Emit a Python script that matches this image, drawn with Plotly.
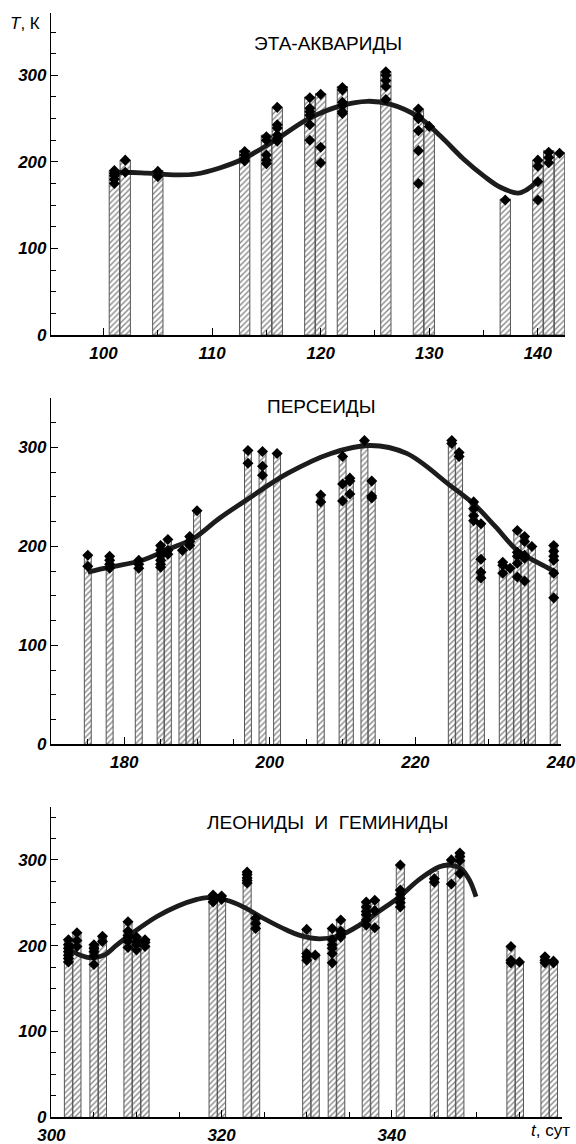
import plotly.graph_objects as go

# ---------------- DATA ----------------
# Panel 1: ЭТА-АКВАРИДЫ
eta_days = [101, 102, 105, 113, 115, 116, 119, 120, 122, 126, 129, 130, 137, 140, 141, 142]
eta_bar_T = [190, 202, 190, 213, 231, 263, 275, 279, 287, 304, 261, 241, 157, 202, 213, 211]
eta_pts = [
    [190, 187, 184, 180, 175],
    [202, 188],
    [189, 183],
    [212, 208, 204, 201],
    [229, 225, 208, 202, 198],
    [263, 243, 239, 231, 227, 224],
    [274, 262, 258, 254, 243, 225],
    [278, 217, 199],
    [286, 283, 269, 265, 258, 256],
    [304, 300, 294, 287, 272],
    [261, 252, 250, 236, 213, 175],
    [241],
    [156],
    [202, 195, 177, 156],
    [211, 205, 199],
    [210],
]
eta_curve_t = [100.6, 102, 104, 106.7, 108.5, 110.7, 112.8, 115.8, 118.9, 121.9, 124.3,
               126.3, 129.0, 131.1, 133.1, 135.1, 136.5, 138.2, 139.0, 139.9]
eta_curve_T = [187, 188, 187, 185, 186, 193, 203, 225, 250, 265, 270,
               267, 252, 229, 204, 183, 171, 164, 168, 177]

# Panel 2: ПЕРСЕИДЫ
per_days = [175, 178, 182, 185, 186, 188, 189, 190, 197, 199, 201, 207, 210, 211, 213,
            214, 225, 226, 228, 229, 232, 233, 234, 235, 236, 239]
per_bar_T = [191, 190, 187, 201, 208, 197, 210, 236, 297, 296, 295, 252, 291, 269, 307,
             266, 307, 296, 246, 224, 185, 179, 217, 211, 201, 203]
per_pts = [
    [191, 180],
    [190, 186, 182, 178],
    [186, 182, 178],
    [201, 196, 191, 186, 182, 179],
    [207, 196, 192],
    [196],
    [210, 205, 201],
    [236],
    [297, 284],
    [296, 281, 272],
    [294],
    [252, 245],
    [291, 263, 246],
    [269, 266, 253],
    [307],
    [266, 251, 249],
    [307, 304],
    [295, 291],
    [245, 238, 231, 226],
    [223, 187, 174, 168],
    [184, 181, 173],
    [178],
    [216, 194, 190, 183, 169],
    [210, 205, 191, 188, 165],
    [200],
    [201, 195, 190, 186, 173, 148],
]
per_curve_t = [175, 178, 182.5, 186, 189.5, 193, 197, 202.5, 208.4, 213.8, 218.8,
               224.7, 228, 231, 234, 238, 239.5]
per_curve_T = [174, 179, 186, 197, 208, 228, 248, 274, 294, 302, 294,
               262, 243, 220, 196, 179, 173]

# Panel 3: ЛЕОНИДЫ И ГЕМИНИДЫ
lg_days = [302, 303, 305, 306, 309, 310, 311, 319, 320, 323, 324, 330, 331, 333, 334,
           337, 338, 341, 345, 347, 348, 354, 355, 358, 359]
lg_bar_T = [208, 216, 202, 212, 228, 210, 208, 259, 259, 287, 234, 220, 191, 221, 231,
            251, 253, 294, 287, 301, 308, 200, 181, 188, 183]
lg_pts = [
    [207, 201, 197, 193, 189, 185, 181],
    [215, 206, 199],
    [201, 197, 193, 188, 178],
    [211, 205],
    [228, 217, 212, 209, 205, 198],
    [210, 205, 201, 195],
    [207, 204, 199],
    [259, 255, 251],
    [258, 254],
    [286, 283, 279, 276, 273],
    [232, 226, 220],
    [219, 191, 187, 183],
    [189],
    [220, 207, 201, 197, 191, 180],
    [230, 217, 213, 210],
    [251, 245, 240, 236, 230, 224],
    [253, 241, 221],
    [294, 265, 260, 255, 250, 245],
    [278, 274],
    [300, 272],
    [308, 304, 299, 284],
    [199, 183, 180],
    [181],
    [187, 183, 180],
    [182, 180],
]
lg_curve_t = [301.8, 303.4, 304.6, 306.2, 307.7, 309.7, 312.4, 314.8, 317.1, 318.3,
              320.6, 322.6, 324.9, 327.7, 329.2, 331.5, 333.9, 336.2, 338.5, 340.9,
              343.2, 345.6, 346.8, 348.1, 349.1, 349.9]
lg_curve_T = [197, 189, 186, 189, 201, 216, 234, 246, 254, 256,
              253, 245, 232, 218, 212, 208, 212, 224, 240, 257,
              277, 292, 294, 290, 277, 257]

titles = ["ЭТА-АКВАРИДЫ", "ПЕРСЕИДЫ", "ЛЕОНИДЫ \u00a0И \u00a0ГЕМИНИДЫ"]
x_ticks = [[100, 110, 120, 130, 140], [180, 200, 220, 240], [300, 320, 340]]

# ---------------- FIGURE ----------------
W, H = 576, 1144
FONT = "Liberation Sans, Arial, sans-serif"

panels = [
    dict(days=eta_days, bars=eta_bar_T, pts=eta_pts, ct=eta_curve_t, cT=eta_curve_T,
         xr=[95.2, 142.5], yr=[0, 372], px=(51.4, 565), py=(13, 335), title_xy=(328, 44)),
    dict(days=per_days, bars=per_bar_T, pts=per_pts, ct=per_curve_t, cT=per_curve_T,
         xr=[170, 240], yr=[0, 350], px=(51.4, 561), py=(398, 744.3), title_xy=(321, 406)),
    dict(days=lg_days, bars=lg_bar_T, pts=lg_pts, ct=lg_curve_t, cT=lg_curve_T,
         xr=[300, 360], yr=[0, 362], px=(51.4, 562), py=(806.7, 1117.3), title_xy=(327, 822)),
]

fig = go.Figure()
annotations = []
for i, p in enumerate(panels):
    n = "" if i == 0 else str(i + 1)
    xa, ya = "x" + n, "y" + n
    fig.add_trace(go.Bar(
        x=p["days"], y=p["bars"], width=0.95, xaxis=xa, yaxis=ya,
        marker=dict(color="white",
                    line=dict(color="#555555", width=1),
                    pattern=dict(shape="/", fgcolor="#111111", bgcolor="white",
                                 size=4, solidity=0.35)),
        hoverinfo="skip"))
    fig.add_trace(go.Scatter(
        x=p["ct"], y=p["cT"], mode="lines", line=dict(color="#1c1c1c", width=4.8, shape="spline"),
        xaxis=xa, yaxis=ya, hoverinfo="skip"))
    px_, py_ = [], []
    for d, vals in zip(p["days"], p["pts"]):
        for v in vals:
            px_.append(d)
            py_.append(v)
    fig.add_trace(go.Scatter(
        x=px_, y=py_, mode="markers",
        marker=dict(symbol="diamond", size=8.5, color="black"),
        xaxis=xa, yaxis=ya, hoverinfo="skip"))

    xdom = [p["px"][0] / W, p["px"][1] / W]
    ydom = [1 - p["py"][1] / H, 1 - p["py"][0] / H]
    axis_common = dict(showline=True, linecolor="black", linewidth=1.5, showgrid=False,
                       zeroline=False, ticks="inside", tickcolor="black", tickwidth=1,
                       automargin=False, ticklabeloverflow="allow",
                       tickfont=dict(family=FONT, size=17, color="black", style="italic",
                                     weight="bold"))
    fig.layout["xaxis" + n] = dict(
        axis_common, domain=xdom, range=p["xr"], anchor=ya, tickvals=x_ticks[i],
        ticklen=7, ticklabelstandoff=2,
        minor=dict(dtick=5, tick0=0, ticks="inside", ticklen=5, tickcolor="black", tickwidth=1))
    fig.layout["yaxis" + n] = dict(
        axis_common, domain=ydom, range=p["yr"], anchor=xa, tickvals=[0, 100, 200, 300],
        ticklen=7,
        minor=dict(dtick=25, tick0=0, ticks="inside", ticklen=5, tickcolor="black", tickwidth=1))
    annotations.append(dict(
        text=titles[i], xref="paper", yref="paper",
        x=p["title_xy"][0] / W, y=1 - p["title_xy"][1] / H, xanchor="center", yanchor="middle",
        showarrow=False, font=dict(family=FONT, size=19, color="black")))

annotations.append(dict(text="<i>T</i>, К", xref="paper", yref="paper", x=8 / W, y=1 - 24 / H,
                        xanchor="left", yanchor="middle", showarrow=False,
                        font=dict(family=FONT, size=17, color="black")))
annotations.append(dict(text="<i>t</i>, сут", xref="paper", yref="paper", x=572 / W, y=1 - 1130 / H,
                        xanchor="right", yanchor="middle", showarrow=False,
                        font=dict(family=FONT, size=17, color="black")))

fig.update_layout(width=W, height=H, margin=dict(l=0, r=0, t=0, b=0),
                  paper_bgcolor="white", plot_bgcolor="white", showlegend=False,
                  barmode="overlay", annotations=annotations)

fig.write_html("out.html", config={"displayModeBar": False, "staticPlot": True},
               post_script="document.body.style.margin='0';document.body.style.padding='0';"
                           "document.body.style.overflow='hidden';"
                           "document.documentElement.style.overflow='hidden';")
